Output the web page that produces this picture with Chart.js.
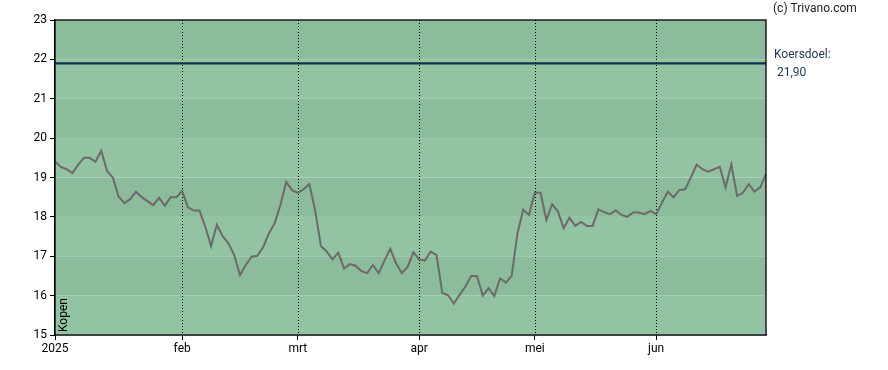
<!DOCTYPE html>
<html>
<head>
<meta charset="utf-8">
<script src="https://cdn.jsdelivr.net/npm/chart.js@4/dist/chart.umd.min.js"></script>
<style>
  html, body { margin: 0; padding: 0; background: #fff; }
  #wrap { width: 888px; height: 370px; }
</style>
</head>
<body>
<div id="wrap"><canvas id="koers-chart" width="888" height="370"></canvas></div>
<script>
// one closing price per trading day, 2 jan - end of jun 2025
const prices = [
    19.41, 19.27, 19.21, 19.11, 19.32, 19.50, 19.50, 19.40, 19.68, 19.17,
    19.00, 18.51, 18.35, 18.45, 18.64, 18.50, 18.40, 18.30, 18.49, 18.28,
    18.50, 18.50, 18.66, 18.24, 18.16, 18.16, 17.75, 17.26, 17.80, 17.51,
    17.33, 17.03, 16.52, 16.78, 16.99, 17.01, 17.23, 17.58, 17.84, 18.30,
    18.89, 18.68, 18.61, 18.70, 18.83, 18.17, 17.26, 17.12, 16.92, 17.09,
    16.69, 16.80, 16.76, 16.62, 16.57, 16.78, 16.57, 16.89, 17.19, 16.82,
    16.57, 16.73, 17.10, 16.92, 16.89, 17.12, 17.03, 16.07, 16.01, 15.80,
    16.02, 16.23, 16.50, 16.50, 16.00, 16.19, 15.99, 16.44, 16.33, 16.50,
    17.58, 18.18, 18.05, 18.61, 18.61, 17.92, 18.32, 18.14, 17.71, 17.98,
    17.77, 17.87, 17.77, 17.77, 18.19, 18.12, 18.07, 18.17, 18.05, 18.00,
    18.11, 18.11, 18.07, 18.15, 18.07, 18.36, 18.64, 18.50, 18.68, 18.70,
    19.00, 19.33, 19.21, 19.15, 19.21, 19.27, 18.75, 19.33, 18.53, 18.61,
    18.83, 18.64, 18.75, 19.09
];
const target = 21.90;
const monthLabels = ['2025', 'feb', 'mrt', 'apr', 'mei', 'jun'];
const monthStarts = [0, 22, 42, 63, 83, 104]; // trading-day index of first day of month
const yTicks = [15, 16, 17, 18, 19, 20, 21, 22, 23];

const lastIdx = prices.length - 1;
const bandDark = '#8bbc9b';
const bandLight = '#92c4a3';
const font = 'Roboto, "Liberation Sans", sans-serif';

const backdrop = {
    id: 'backdrop',
    beforeDatasetsDraw: (chart) => {
        const { ctx, chartArea: a, scales: { x, y } } = chart
        ctx.save()
        // alternating bands, one per unit
        for (let i = 0; i < yTicks.length - 1; i++) {
            const top = y.getPixelForValue(yTicks[i + 1])
            const bot = y.getPixelForValue(yTicks[i])
            ctx.fillStyle = (yTicks[i] % 2 === 0) ? bandDark : bandLight
            ctx.fillRect(a.left, top, a.right - a.left, bot - top)
        }
        // dotted month separators
        ctx.strokeStyle = '#000'
        ctx.lineWidth = 1
        ctx.setLineDash([1, 2])
        monthStarts.slice(1).forEach(m => {
            const px = Math.round(x.getPixelForValue(m)) + 0.5
            ctx.beginPath()
            ctx.moveTo(px, a.top)
            ctx.lineTo(px, a.bottom)
            ctx.stroke()
        })
        ctx.restore()
    },
    afterDraw: (chart) => {
        const { ctx, chartArea: a } = chart
        ctx.save()
        ctx.strokeStyle = '#000'
        ctx.lineWidth = 1.3
        ctx.strokeRect(a.left, a.top, a.right - a.left, a.bottom - a.top)

        ctx.textBaseline = 'middle'
        ctx.textAlign = 'left'
        ctx.font = '12px ' + font
        ctx.fillStyle = '#222'
        ctx.fillText('(c) Trivano.com', 773, 9)
        ctx.fillStyle = '#1b3550'
        ctx.fillText('Koersdoel:', 774, 55)
        ctx.fillText('21,90', 777, 73)

        // rotated advice label
        ctx.fillStyle = '#000'
        ctx.translate(64, 332)
        ctx.rotate(-Math.PI / 2)
        ctx.fillText('Kopen', 0, 0)
        ctx.restore()
    }
}

new Chart(document.getElementById('koers-chart'), {
    type: 'line',
    data: {
        datasets: [
            {
                label: 'Koersdoel',
                data: [{ x: 0, y: target }, { x: lastIdx, y: target }],
                borderColor: '#0f3352',
                borderWidth: 2.2,
                pointRadius: 0
            },
            {
                label: 'Koers',
                data: prices.map((v, i) => ({ x: i, y: v })),
                borderColor: '#6d6a6c',
                borderWidth: 2,
                pointRadius: 0,
                tension: 0
            }
        ]
    },
    options: {
        responsive: false,
        animation: false,
        devicePixelRatio: 1,
        layout: { padding: { left: 0, right: 122, top: 20, bottom: 0 } },
        plugins: {
            legend: { display: false },
            tooltip: { enabled: false }
        },
        scales: {
            x: {
                type: 'linear',
                min: 0,
                max: lastIdx,
                afterBuildTicks: (scale) => {
                    scale.ticks = monthStarts.map(v => ({ value: v }))
                },
                afterFit: (scale) => { scale.height = 35 },
                grid: { drawOnChartArea: false, drawTicks: true, tickLength: 5, tickColor: '#000' },
                border: { display: true, color: '#000', width: 1.3 },
                ticks: {
                    autoSkip: false,
                    maxRotation: 0,
                    padding: 2,
                    color: '#000',
                    font: { family: font, size: 12 },
                    callback: (v) => monthLabels[monthStarts.indexOf(v)]
                }
            },
            y: {
                min: 15,
                max: 23,
                afterBuildTicks: (scale) => {
                    scale.ticks = yTicks.map(v => ({ value: v }))
                },
                afterFit: (scale) => { scale.width = 55 },
                grid: { drawOnChartArea: false, drawTicks: true, tickLength: 5, tickColor: '#000' },
                border: { display: true, color: '#000', width: 1.3 },
                ticks: {
                    padding: 3,
                    color: '#000',
                    font: { family: font, size: 12 }
                }
            }
        }
    },
    plugins: [backdrop]
})
</script>
</body>
</html>
